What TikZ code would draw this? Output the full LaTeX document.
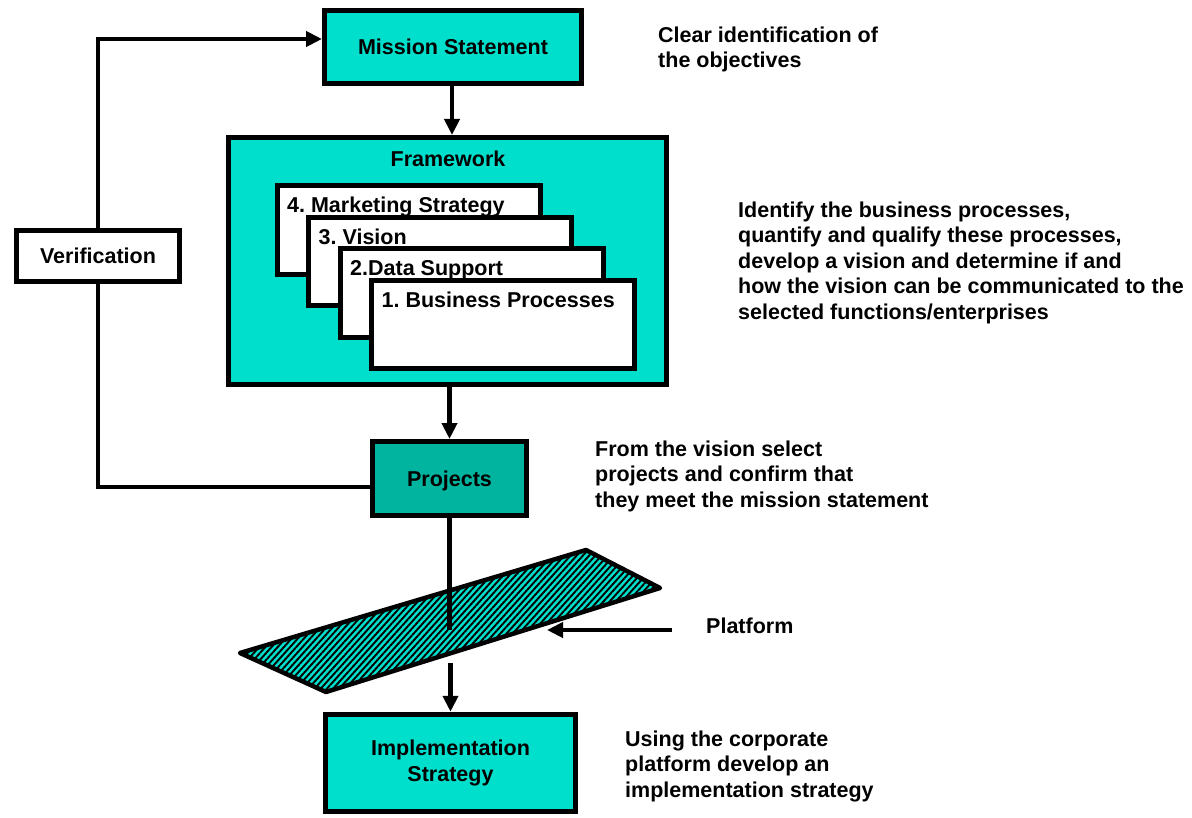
\documentclass[tikz,border=0pt]{standalone}
\usepackage{fontspec}
\setmainfont{Liberation Sans}
\usetikzlibrary{arrows.meta,calc,patterns.meta}

\definecolor{aqua}{RGB}{0,222,204}
\definecolor{deepaqua}{RGB}{0,180,160}

\tikzset{
  every node/.style={font=\fontsize{21.5}{25.5}\selectfont\bfseries\frenchspacing},
  box/.style={draw, line width=5pt, inner sep=0pt, text height=15.7pt, text depth=0pt},
  aquabox/.style={box, fill=aqua},
  card/.style={draw, line width=5pt, fill=white, minimum width=263pt, minimum height=88.5pt, inner sep=0pt},
  cardtext/.style={anchor=base west, inner sep=0pt},
  link/.style={line width=4.5pt},
  arrow/.style={link, -{Triangle[length=16pt,width=15pt]}},
  note/.style={anchor=north west, inner sep=0pt, align=left},
}

\begin{document}
\begin{tikzpicture}[x=1pt, y=-1pt]
\useasboundingbox (0,0) rectangle (1192,818);

% main boxes
\node[aquabox, minimum width=257pt, minimum height=73pt] (ms) at (453,47) {Mission Statement};
\node[box, fill=aqua, minimum width=438pt, minimum height=247pt] (fw) at (447.5,261) {};
\node[anchor=base, inner sep=0pt] (fwlabel) at (448,167) {Framework};

% stacked framework cards, each one partly covering the one behind it
\node[card] (c4) at (408.5,230.25) {};
\node[cardtext] (t4) at ($(c4.north west)+(12.5,29.5)$) {4. Marketing Strategy};
\node[card] (c3) at (440,261.75) {};
\node[cardtext] (t3) at ($(c3.north west)+(12.5,29.5)$) {3. Vision};
\node[card] (c2) at (471.5,293.25) {};
\node[cardtext] (t2) at ($(c2.north west)+(12.5,29.5)$) {2.Data Support};
\node[card] (c1) at (503,324.75) {};
\node[cardtext] (t1) at ($(c1.north west)+(12.5,29.5)$) {1. Business Processes};

\node[box, fill=deepaqua, minimum width=154pt, minimum height=74pt] (proj) at (449.5,478.5) {Projects};
\node[aquabox, minimum width=250pt, minimum height=97.5pt, align=center, text height=, text depth=] (impl) at (450.5,763) {Implementation\\Strategy};

% verification loop
\coordinate (projout) at ($(proj.west)+(0,8.5)$);
\coordinate (msin) at ($(ms.west)+(0,-8)$);
\draw[link] (projout) -| (98,284);
\draw[arrow] (98,228) |- (msin);
\node[box, fill=white, minimum width=163pt, minimum height=51pt] (verif) at (98,256) {Verification};

% downward flow
\draw[arrow] ($(ms.south)+(-1,0)$) -- ($(ms.south |- fw.north)+(-1,0)$);
\draw[arrow] (proj.north |- fw.south) -- (proj.north);

% platform
\coordinate (pfA) at (240,653);
\coordinate (pfB) at (586,550);
\coordinate (pfC) at (660,588);
\coordinate (pfD) at (326,692);
\fill[aqua] (pfA) -- (pfB) -- (pfC) -- (pfD) -- cycle;
\fill[pattern={Lines[angle=48,distance=4.6pt,line width=1.9pt]}, pattern color=black]
  (pfA) -- (pfB) -- (pfC) -- (pfD) -- cycle;
\draw[line width=4.5pt, line join=round] (pfA) -- (pfB) -- (pfC) -- (pfD) -- cycle;

\coordinate (pfmid) at (449.5,630);
\coordinate (pfbelow) at (450.5,663);
\draw[link] (proj.south) -- (pfmid);
\draw[arrow] (pfbelow) -- (impl.north);

\node[anchor=base west, inner sep=0pt] (pflabel) at (706,633) {Platform};
\coordinate (pfstart) at (672,630);
\coordinate (pfedge) at (547,630);
\draw[arrow] (pfstart) -- (pfedge);

% explanatory notes
\node[note] (n1) at (658,26.3) {Clear identification of\\the objectives};
\node[note] (n2) at (738,201.3) {Identify the business processes,\\quantify and qualify these processes,\\develop a vision and determine if and\\how the vision can be communicated to the\\selected functions/enterprises};
\node[note] (n3) at (595,440.3) {From the vision select\\projects and confirm that\\they meet the mission statement};
\node[note] (n4) at (625,730.3) {Using the corporate\\platform develop an\\implementation strategy};
\end{tikzpicture}
\end{document}
